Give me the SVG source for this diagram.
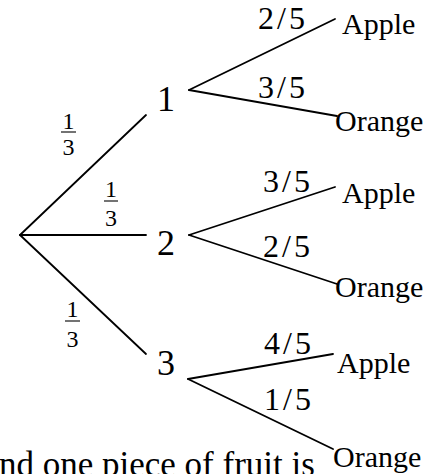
<svg xmlns="http://www.w3.org/2000/svg" width="445" height="474" viewBox="0 0 445 474">
<defs>
<style>
line{stroke:#000;stroke-width:1.8;stroke-linecap:round}
.bar{stroke-width:1.1;stroke-linecap:butt}
</style>
</defs>
<rect width="445" height="474" fill="#fff"/>
<g id="connectors">
<line x1="20" y1="235" x2="146" y2="115"/>
<line x1="20" y1="235" x2="146" y2="235"/>
<line x1="20" y1="235" x2="146" y2="354"/>
<line x1="189" y1="90" x2="335" y2="19"/>
<line x1="189" y1="90" x2="337" y2="116"/>
<line x1="189" y1="235" x2="335" y2="187"/>
<line x1="189" y1="235" x2="337" y2="284"/>
<line x1="188" y1="379" x2="333" y2="354"/>
<line x1="188" y1="379" x2="333" y2="449"/>
</g>
<g id="edge-labels">
<g id="p1"><text x="68.5" y="129" font-size="24" text-anchor="middle" font-family="'Liberation Serif'">1</text><line class="bar" x1="61" y1="132" x2="76" y2="132"/><text x="68.5" y="155" font-size="24" text-anchor="middle" font-family="'Liberation Serif'">3</text></g>
<g id="p2"><text x="111" y="197" font-size="24" text-anchor="middle" font-family="'Liberation Serif'">1</text><line class="bar" x1="104" y1="201" x2="118" y2="201"/><text x="111" y="226" font-size="24" text-anchor="middle" font-family="'Liberation Serif'">3</text></g>
<g id="p3"><text x="72.5" y="317" font-size="24" text-anchor="middle" font-family="'Liberation Serif'">1</text><line class="bar" x1="65" y1="321" x2="80" y2="321"/><text x="72.5" y="347" font-size="24" text-anchor="middle" font-family="'Liberation Serif'">3</text></g>
<text x="258" y="29" font-size="32" letter-spacing="3" font-family="'Liberation Serif'">2/5</text>
<text x="258" y="98" font-size="32" letter-spacing="3" font-family="'Liberation Serif'">3/5</text>
<text x="263" y="192" font-size="32" letter-spacing="3" font-family="'Liberation Serif'">3/5</text>
<text x="263" y="257" font-size="32" letter-spacing="3" font-family="'Liberation Serif'">2/5</text>
<text x="264" y="354" font-size="32" letter-spacing="3" font-family="'Liberation Serif'">4/5</text>
<text x="264" y="410" font-size="32" letter-spacing="3" font-family="'Liberation Serif'">1/5</text>
</g>
<g id="node-1"><text x="166" y="111" font-size="36" text-anchor="middle" font-family="'Liberation Serif'">1</text></g>
<g id="node-2"><text x="166" y="255" font-size="36" text-anchor="middle" font-family="'Liberation Serif'">2</text></g>
<g id="node-3"><text x="166" y="375" font-size="36" text-anchor="middle" font-family="'Liberation Serif'">3</text></g>
<g id="leaf-1a"><text x="342" y="34" font-size="30" font-family="'Liberation Serif'">Apple</text></g>
<g id="leaf-1o"><text x="335" y="131" font-size="30" font-family="'Liberation Serif'">Orange</text></g>
<g id="leaf-2a"><text x="342" y="203" font-size="30" font-family="'Liberation Serif'">Apple</text></g>
<g id="leaf-2o"><text x="335" y="297" font-size="30" font-family="'Liberation Serif'">Orange</text></g>
<g id="leaf-3a"><text x="337" y="373" font-size="30" font-family="'Liberation Serif'">Apple</text></g>
<g id="leaf-3o"><text x="333" y="467" font-size="30" font-family="'Liberation Serif'">Orange</text></g>
<text x="-1" y="476" font-size="35" font-family="'Liberation Serif'">nd one piece of fruit is</text>
</svg>
